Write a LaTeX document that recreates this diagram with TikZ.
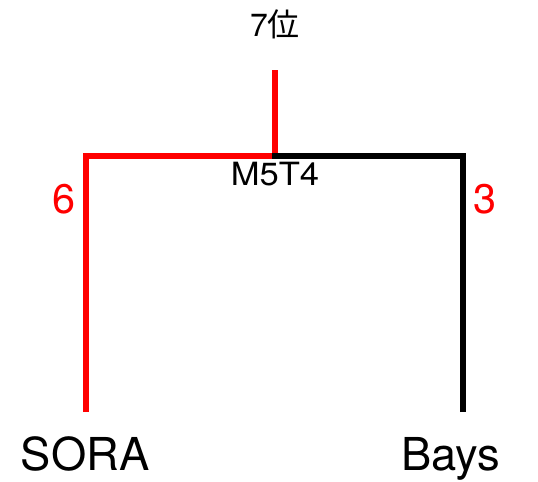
\documentclass[tikz,border=0pt]{standalone}
\usepackage{fontspec}
\setmainfont{TeX Gyre Heros}
\newfontfamily\jpfont{Noto Sans CJK JP}
\begin{document}
\begin{tikzpicture}
    [x=0.75pt,y=-0.75pt,
    team/.style={anchor=base,font=\fontsize{34}{37}\selectfont},
    score/.style={anchor=base,text=red,font=\fontsize{31}{34}\selectfont},
    match/.style={anchor=base,font=\fontsize{24}{27}\selectfont},
    win/.style={draw=red,line width=4.5pt,miter limit=4},
    lose/.style={draw=black,line width=4.5pt,miter limit=4}]

    \useasboundingbox (0,0) rectangle (538,481);

    \coordinate (sora) at (86,412);
    \coordinate (bays) at (463,412);
    \coordinate (m5t4) at (275,156);
    \coordinate (top) at (275,70);

    \node (soraname) [team] at (85,470) {SORA};
    \node (baysname) [team] at (451,470) {Bays};
    \node (soras) [score] at (64,213) {6};
    \node (bayss) [score] at (485,213) {3};
    \node (mlabel) [match,xscale=1.08] at (275,185) {M5T4};
    \node (rank) [match] at (275,37) {7{\jpfont 位}};

    \draw [win] (sora) |- (m5t4) -- (top);
    \draw [lose] (bays) |- ([xshift=-2.25pt]m5t4);

  \end{tikzpicture}
\end{document}
